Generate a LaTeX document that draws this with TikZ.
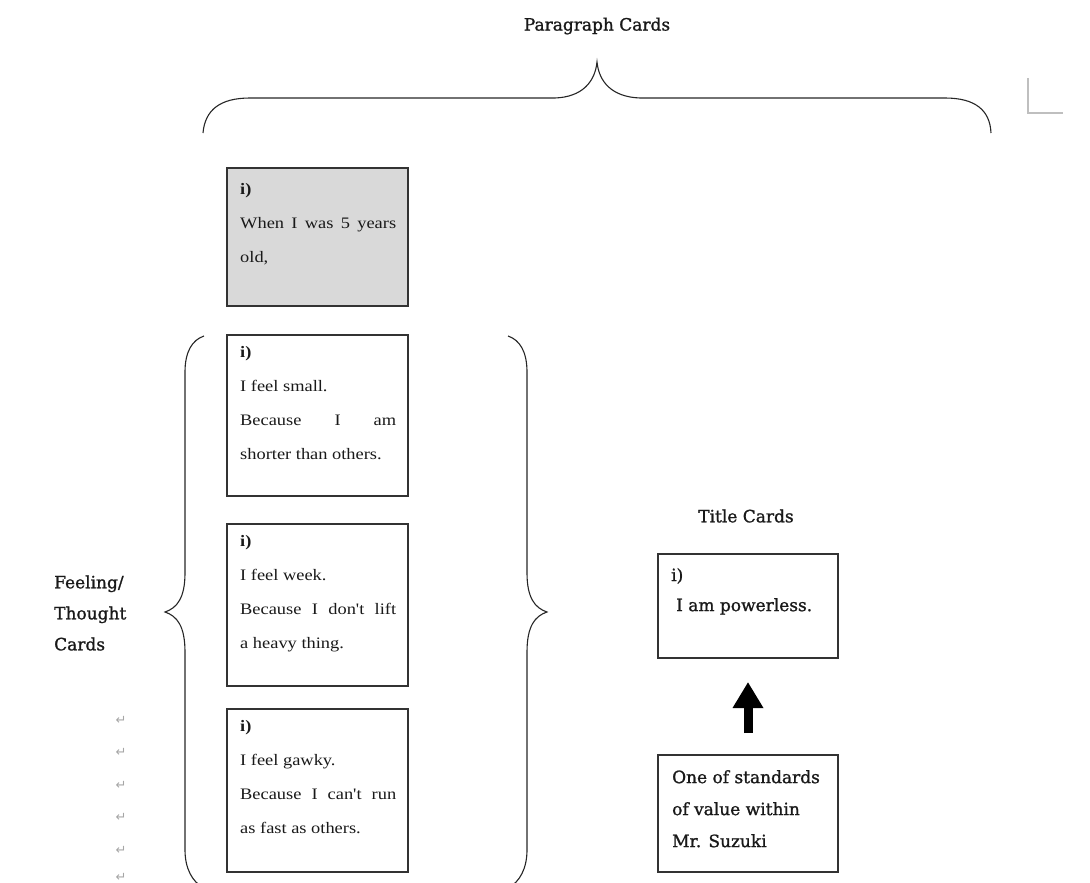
\documentclass[tikz,border=0pt]{standalone}
\usepackage{fontspec}
\setmainfont{DejaVu Serif}
\newfontfamily\headfont[FakeBold=1.2]{DejaVu Serif}
\newfontfamily\cardfont[FakeStretch=1.15]{Liberation Serif}
\newfontfamily\symfont{DejaVu Sans}
\usetikzlibrary{arrows.meta}
\tikzset{
  card/.style={draw=black!80, line width=1.3pt, inner sep=0pt, outer sep=0pt, minimum width=181pt, anchor=north west},
  cardtext/.style={anchor=north west, inner sep=0pt, align=left, text=black!90, font=\cardfont\fontsize{16}{34}\selectfont},
  heading/.style={inner sep=0pt, text=black!90, align=left, font=\headfont\fontsize{17}{31}\selectfont},
  brace/.style={draw=black!85, line width=1.1pt},
  bigarrow/.style={draw=black, line width=9pt, -{Triangle[width=29pt,length=26pt]}},
  retmark/.style={inner sep=0pt, text=black!35, font=\symfont\fontsize{13}{14}\selectfont},
}
\begin{document}
\begin{tikzpicture}[x=1pt,y=-1pt]
\useasboundingbox (0,0) rectangle (1090,883);
\clip (0,0) rectangle (1090,883);

% headings
\node[heading, anchor=center] (ph) at (597,26) {Paragraph Cards};
\node[heading, anchor=center] (th) at (746,516) {Title Cards};
\node[heading, anchor=west] (fh) at (54,613) {Feeling/\\Thought\\Cards};

% top brace
\draw[brace] (203,133) .. controls (205,110) and (220,98) .. (250,98) -- (555,98)
  .. controls (582,97) and (595,82) .. (597,62)
  .. controls (599,82) and (612,97) .. (640,98) -- (945,98)
  .. controls (975,98) and (990,110) .. (991,133);

% corner mark
\draw[black!25, line width=1.2pt] (1028,78) -- (1028,113) -- (1063,113);

% left brace
\draw[brace] (204,336) .. controls (192,340) and (185,352) .. (185,372) -- (185,573)
  .. controls (185,598) and (177,608) .. (165,612)
  .. controls (177,616) and (185,626) .. (185,652) -- (185,850)
  .. controls (185,868) and (192,882) .. (204,888);
% right brace
\draw[brace] (508,336) .. controls (520,340) and (527,352) .. (527,372) -- (527,573)
  .. controls (527,598) and (535,608) .. (547,612)
  .. controls (535,616) and (527,626) .. (527,652) -- (527,850)
  .. controls (527,868) and (520,882) .. (508,888);

% paragraph card
\node[card, fill=black!15, minimum height=138pt] (c1) at (227,168) {};
\node[cardtext] (t1) at ([shift={(13,15)}]c1.north west)
  {\textbf{i)}\\\makebox[156pt][s]{When I was 5 years}\\old,};

% feeling / thought cards
\node[card, minimum height=161pt] (c2) at (227,335) {};
\node[cardtext] (t2) at ([shift={(13,11)}]c2.north west)
  {\textbf{i)}\\I feel small.\\\makebox[156pt][s]{Because I am}\\shorter than others.};

\node[card, minimum height=162pt] (c3) at (227,524) {};
\node[cardtext] (t3) at ([shift={(13,11)}]c3.north west)
  {\textbf{i)}\\I feel week.\\\makebox[156pt][s]{Because I don't lift}\\a heavy thing.};

\node[card, minimum height=163pt] (c4) at (227,709) {};
\node[cardtext] (t4) at ([shift={(13,11)}]c4.north west)
  {\textbf{i)}\\I feel gawky.\\\makebox[156pt][s]{Because I can't run}\\as fast as others.};

% return marks
\foreach \i/\yy in {1/720,2/752,3/785,4/817,5/850,6/877}
  \node[retmark] (r\i) at (121,\yy) {↵};

% title card
\node[card, minimum width=180pt, minimum height=104pt] (tc) at (658,554) {};
\node[heading, anchor=north west, font=\headfont\fontsize{17}{30}\selectfont] (tt) at ([shift={(13,14)}]tc.north west)
  {i)\\\hspace{5pt}I am powerless.};

% standards box
\node[card, minimum width=180pt, minimum height=117pt] (sb) at (658,755) {};
\node[heading, anchor=north west, font=\headfont\fontsize{17}{32}\selectfont] (st) at ([shift={(14,15)}]sb.north west)
  {One of standards\\of value within\\Mr. Suzuki};

% arrow
\draw[bigarrow, shorten <=22pt, shorten >=24pt] (sb.north) -- (tc.south);
\end{tikzpicture}
\end{document}
